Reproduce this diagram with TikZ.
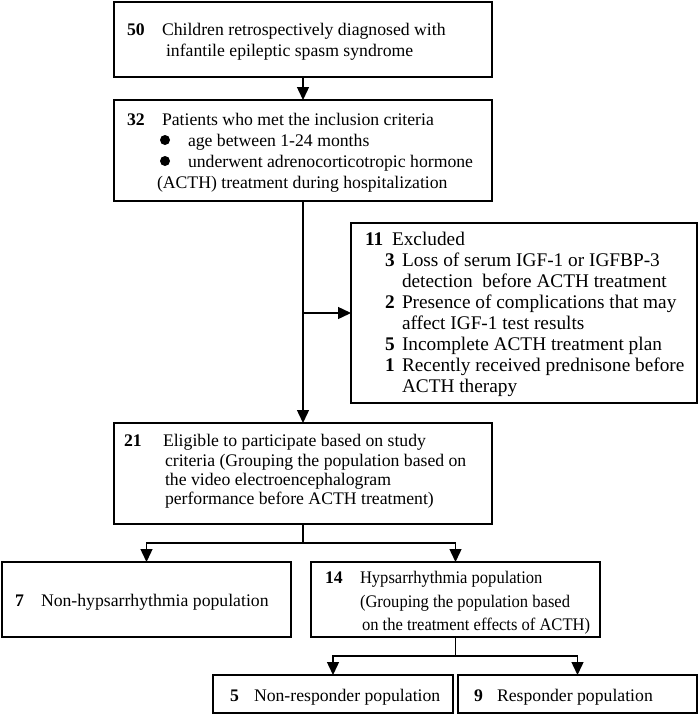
\documentclass[tikz,border=0pt]{standalone}
\usepackage{fontspec}
\usepackage{graphicx}
\setmainfont{Liberation Serif}
\usetikzlibrary{arrows.meta}
\newcommand{\narrowtxt}[1]{\scalebox{0.935}[1]{#1}}
\begin{document}
\begin{tikzpicture}[x=1pt,y=-1pt,
  box/.style={draw,line width=1.4pt,rectangle,inner sep=0pt,outer sep=0pt,anchor=north west},
  txt/.style={anchor=base west,inner sep=0pt,outer sep=0pt,font=\fontsize{17.7}{21}\selectfont},
  num/.style={txt,font=\fontsize{17.7}{21}\selectfont\bfseries},
  xtxt/.style={txt,font=\fontsize{19.3}{21}\selectfont},
  xnum/.style={txt,font=\fontsize{19.3}{21}\selectfont\bfseries},
  bul/.style={circle,fill,inner sep=0pt,minimum size=10pt},
  conn/.style={line width=1.4pt},
  arr/.style={conn,-{Triangle[length=13pt,width=12pt]}}]
\useasboundingbox (0,0) rectangle (699,715);
% boxes
\node[box,minimum width=378pt,minimum height=75pt] (b1) at (114,2) {};
\node[box,minimum width=378pt,minimum height=101pt] (b2) at (114,100) {};
\node[box,minimum width=346pt,minimum height=180pt] (bx) at (351,223) {};
\node[box,minimum width=378pt,minimum height=101pt] (b21) at (114,423) {};
\node[box,minimum width=289pt,minimum height=75pt] (b7) at (2,562) {};
\node[box,minimum width=289pt,minimum height=75pt] (b14) at (311,562) {};
\node[box,minimum width=240pt,minimum height=38pt] (b5) at (213,675) {};
\node[box,minimum width=239pt,minimum height=38pt] (b9) at (458,675) {};
% box 1
\node[num] (n50) at (127,35) {50};
\node[txt] (t1a) at (162,35) {Children retrospectively diagnosed with};
\node[txt] (t1b) at (166,56) {infantile epileptic spasm syndrome};
% box 2
\node[num] (n32) at (127,125) {32};
\node[txt] (t2a) at (162,125) {Patients who met the inclusion criteria};
\node[bul] (bu1) at (165,140) {};
\node[txt] (t2b) at (188,146) {age between 1-24 months};
\node[bul] (bu2) at (165,161) {};
\node[txt] (t2c) at (188,167) {underwent adrenocorticotropic hormone};
\node[txt] (t2d) at (157,188) {(ACTH) treatment during hospitalization};
% excluded
\node[xnum] (n11) at (365,245) {11};
\node[xtxt] (tx0) at (392,245) {Excluded};
\node[xnum] (nx3) at (385,266) {3};
\node[xtxt] (tx1) at (402,266) {Loss of serum IGF-1 or IGFBP-3};
\node[xtxt] (tx2) at (402,287) {detection\ \ before ACTH treatment};
\node[xnum] (nx2) at (385,308) {2};
\node[xtxt] (tx3) at (402,308) {Presence of complications that may};
\node[xtxt] (tx4) at (402,329) {affect IGF-1 test results};
\node[xnum] (nx5) at (385,350) {5};
\node[xtxt] (tx5) at (402,350) {Incomplete ACTH treatment plan};
\node[xnum] (nx1) at (385,371) {1};
\node[xtxt] (tx6) at (402,371) {Recently received prednisone before};
\node[xtxt] (tx7) at (402,392) {ACTH therapy};
% box 21
\node[num] (n21) at (124,446) {21};
\node[txt] (t21a) at (163,446) {Eligible to participate based on study};
\node[txt] (t21b) at (165,466) {criteria (Grouping the population based on};
\node[txt] (t21c) at (165,485) {the video electroencephalogram};
\node[txt] (t21d) at (165,504) {performance before ACTH treatment)};
% box 7
\node[num] (n7) at (15,606) {7};
\node[txt] (t7) at (41,606) {Non-hypsarrhythmia population};
% box 14
\node[num] (n14) at (325,583) {14};
\node[txt] (t14a) at (360,583) {\narrowtxt{Hypsarrhythmia population}};
\node[txt] (t14b) at (360,607) {\narrowtxt{(Grouping the population based}};
\node[txt] (t14c) at (362,630) {\narrowtxt{on the treatment effects of ACTH)}};
% box 5 and 9
\node[num] (n5) at (230,701) {5};
\node[txt] (t5) at (254,701) {Non-responder population};
\node[num] (n9) at (474,701) {9};
\node[txt] (t9) at (497,701) {Responder population};
% connectors
\draw[arr] (b1.south) -- (b2.north);
\draw[arr] (b2.south) -- (b21.north);
\coordinate (jx) at (b2.south |- bx.west);
\draw[arr] (jx) -- (bx.west);
\coordinate (s1) at (303,543);
\draw[conn] (b21.south) -- (s1);
\draw[arr] (s1) -| (b7.north);
\draw[arr] (s1) -| (b14.north);
\coordinate (s2) at (455.5,656);
\draw[conn] (b14.south) -- (s2);
\draw[arr] (s2) -| (b5.north);
\draw[arr] (s2) -| (b9.north);
\end{tikzpicture}
\end{document}
